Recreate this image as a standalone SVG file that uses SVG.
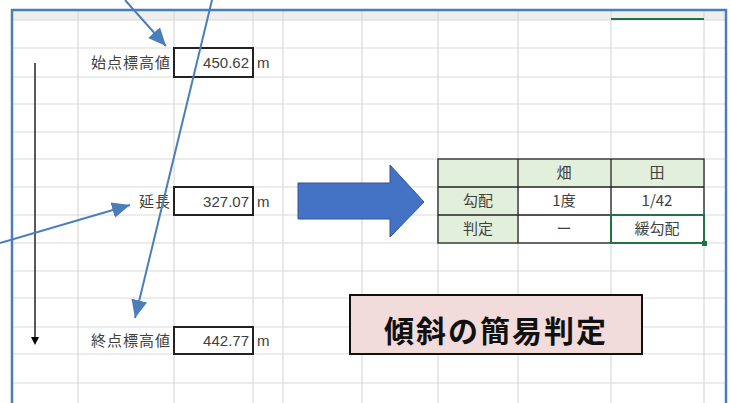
<svg xmlns="http://www.w3.org/2000/svg" width="730" height="403" viewBox="0 0 730 403">
<defs>
<style>
.grid{stroke:#d9d9d9;stroke-width:1.2}
.lbl{font-family:"Noto Sans CJK JP","Liberation Sans",sans-serif;font-size:15px;fill:#404040;letter-spacing:1px}
.num{font-family:"Liberation Sans","Noto Sans CJK JP",sans-serif;font-size:15px;fill:#404040}
.cell{fill:#fff;stroke:#222;stroke-width:2}
.tt{font-family:"Noto Sans CJK JP","Liberation Sans",sans-serif;font-size:15px;fill:#404040;text-anchor:middle}
.conn{stroke:#4a7ebb;stroke-width:2;fill:none}
</style>
<marker id="ah" markerUnits="userSpaceOnUse" markerWidth="20" markerHeight="16" refX="18" refY="8" orient="auto">
<path d="M0,0 L18,8 L0,16 Z" fill="#4a7ebb"/>
</marker>
</defs>
<rect x="0" y="0" width="730" height="403" fill="#fff"/>
<g id="sheet">
<rect x="12" y="10" width="714" height="400" fill="#fff"/>
<rect x="12" y="10" width="714" height="10" fill="#efefef"/>
<g class="grid">
<line x1="12" y1="20" x2="726" y2="20"/>
<line x1="12" y1="48" x2="726" y2="48"/>
<line x1="12" y1="77" x2="726" y2="77"/>
<line x1="12" y1="104" x2="726" y2="104"/>
<line x1="12" y1="132" x2="726" y2="132"/>
<line x1="12" y1="159" x2="726" y2="159"/>
<line x1="12" y1="187" x2="726" y2="187"/>
<line x1="12" y1="215" x2="726" y2="215"/>
<line x1="12" y1="243" x2="726" y2="243"/>
<line x1="12" y1="271" x2="726" y2="271"/>
<line x1="12" y1="298" x2="726" y2="298"/>
<line x1="12" y1="327" x2="726" y2="327"/>
<line x1="12" y1="354" x2="726" y2="354"/>
<line x1="12" y1="383" x2="726" y2="383"/>
<line x1="78" y1="10" x2="78" y2="403"/>
<line x1="174" y1="10" x2="174" y2="403"/>
<line x1="253" y1="10" x2="253" y2="403"/>
<line x1="283" y1="10" x2="283" y2="403"/>
<line x1="362" y1="10" x2="362" y2="403"/>
<line x1="438" y1="10" x2="438" y2="403"/>
<line x1="518" y1="10" x2="518" y2="403"/>
<line x1="611" y1="10" x2="611" y2="403"/>
<line x1="704" y1="10" x2="704" y2="403"/>
</g>
<line x1="611" y1="19" x2="704" y2="19" stroke="#217346" stroke-width="2"/>
</g>
<g id="start">
<text class="lbl" x="171" y="68" text-anchor="end">始点標高値</text>
<rect class="cell" x="174" y="48" width="79" height="29"/>
<text class="num" x="249" y="68" text-anchor="end">450.62</text>
<text class="num" x="257" y="68">m</text>
</g>
<g id="length">
<text class="lbl" x="171" y="207" text-anchor="end">延長</text>
<rect class="cell" x="174" y="187" width="79" height="28"/>
<text class="num" x="249" y="207" text-anchor="end">327.07</text>
<text class="num" x="257" y="207">m</text>
</g>
<g id="end">
<text class="lbl" x="171" y="346" text-anchor="end">終点標高値</text>
<rect class="cell" x="174" y="327" width="79" height="27"/>
<text class="num" x="249" y="346" text-anchor="end">442.77</text>
<text class="num" x="257" y="346">m</text>
</g>
<g id="table">
<rect x="438" y="159" width="266" height="28" fill="#e2efda"/>
<rect x="438" y="187" width="80" height="56" fill="#e2efda"/>
<g stroke="#222" stroke-width="1.3" fill="none">
<rect x="438" y="159" width="266" height="84"/>
<line x1="438" y1="187" x2="704" y2="187"/>
<line x1="438" y1="215" x2="704" y2="215"/>
<line x1="518" y1="159" x2="518" y2="243"/>
<line x1="611" y1="159" x2="611" y2="243"/>
</g>
<rect x="611" y="215" width="93" height="28" fill="none" stroke="#217346" stroke-width="2"/>
<rect x="702" y="241" width="5" height="5" fill="#217346"/>
<text class="tt" x="564" y="178">畑</text>
<text class="tt" x="657" y="178">田</text>
<text class="tt" x="478" y="206">勾配</text>
<text class="tt" x="564" y="206">1度</text>
<text class="tt" x="657" y="206">1/42</text>
<text class="tt" x="478" y="234">判定</text>
<text class="tt" x="564" y="234">ー</text>
<text class="tt" x="657" y="234">緩勾配</text>
</g>
<g id="bigarrow">
<path d="M298,183 L390,183 L390,165 L424,202 L390,237 L390,219 L298,219 Z" fill="#4472c4" stroke="#2f5597" stroke-width="1"/>
</g>
<g id="title">
<rect x="350" y="295" width="292" height="59" fill="#f2dcdb" stroke="#111" stroke-width="2"/>
<text x="496" y="342" text-anchor="middle" font-family="'Noto Sans CJK JP',sans-serif" font-weight="bold" font-size="30" letter-spacing="2" fill="#111">傾斜の簡易判定</text>
</g>
<g id="connectors">
<line x1="35" y1="63" x2="35" y2="338" stroke="#000" stroke-width="1.3"/>
<path d="M31,337 L39,337 L35,345 Z" fill="#000"/>
<line class="conn" x1="125" y1="0" x2="166" y2="46" marker-end="url(#ah)"/>
<line class="conn" x1="212" y1="0" x2="135" y2="318" marker-end="url(#ah)"/>
<line class="conn" x1="0" y1="243" x2="130" y2="205" marker-end="url(#ah)"/>
</g>
<rect x="12" y="10" width="714" height="400" fill="none" stroke="#4a7ebb" stroke-width="2.5"/>
</svg>
